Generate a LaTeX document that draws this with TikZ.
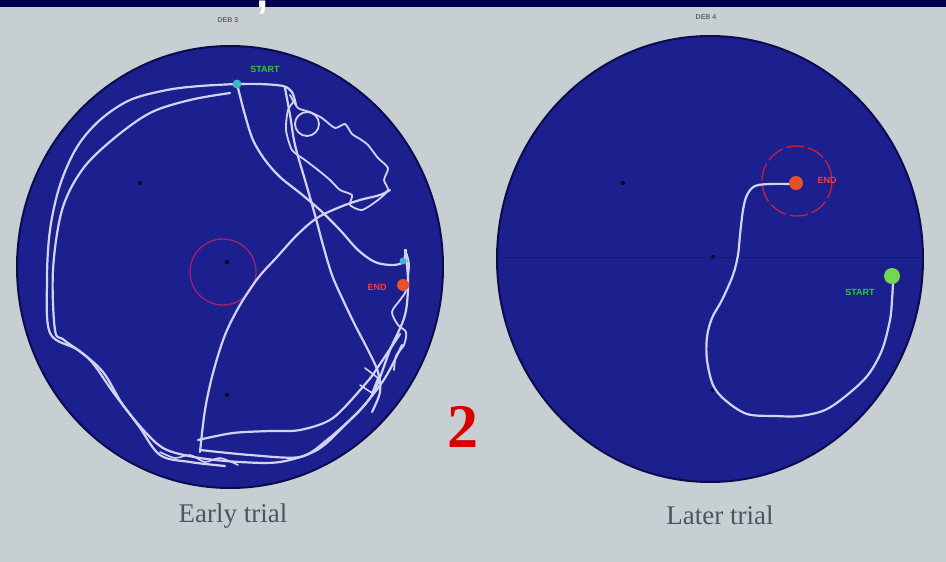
\documentclass[tikz,border=0pt]{standalone}
\usepackage{fontspec}
\setmainfont{Liberation Serif}
\newfontfamily\sansf{Liberation Sans}
\definecolor{bgc}{HTML}{C8CFD2}
\definecolor{poolc}{HTML}{1C1F8E}
\definecolor{rimc}{HTML}{0B0C4E}
\definecolor{bandc}{HTML}{00004F}
\definecolor{trailc}{HTML}{D2D2F2}
\definecolor{startc}{HTML}{2ECC2E}
\definecolor{endc}{HTML}{FF3A3A}
\definecolor{captc}{HTML}{4A5562}
\definecolor{platl}{HTML}{A0226E}
\definecolor{platr}{HTML}{C8203C}
\definecolor{enddot}{HTML}{E8502A}
\definecolor{cyandot}{HTML}{3CB8C8}
\begin{document}
\begin{tikzpicture}[x=1pt,y=-1pt,
  trail/.style={draw=trailc, line width=2.2pt, line cap=round, line join=round},
  pool/.style={fill=poolc, draw=rimc, line width=2pt},
  mark dot/.style={fill=black!70!poolc, draw=none},
  capt/.style={text=captc, font=\fontsize{27}{29}\selectfont, inner sep=0pt},
  tiny/.style={text=black!60, font=\sansf\fontsize{7}{7}\selectfont\bfseries, inner sep=0pt},
  lbl/.style={font=\sansf\fontsize{9}{9}\selectfont\bfseries, inner sep=0pt}]
\fill[bgc] (0,0) rectangle (946,562);
\useasboundingbox (0,0) rectangle (946,562);
\fill[bandc] (0,0) rectangle (946,7);
\node[text=white, font=\sansf\fontsize{44}{44}\selectfont\bfseries, inner sep=0pt, anchor=base] (comma) at (263,7) {,};

% pools
\draw[pool] (230,267) ellipse [x radius=213, y radius=221];
\draw[pool] (710,259) ellipse [x radius=213, y radius=223];

% trial ids
\node[tiny] (idl) at (228,20) {DEB 3};
\node[tiny] (idr) at (706,17) {DEB 4};

% quadrant markers
\foreach \p in {(140,183),(227,262),(227,395),(623,183),(713,257),(713,390)}
  \fill[mark dot] \p circle (2.2);
\draw[rimc!35!poolc, line width=0.6pt] (500,257) -- (920,257);

% platforms
\draw[platl, line width=1.3pt] (223,272) circle (33);
\draw[platr, line width=1.3pt, dash pattern=on 18pt off 4pt] (797,181) circle (35);

% ---- early trial trails
\draw[trail] plot[smooth, tension=0.55] coordinates {(237,84) (200,86) (167,90) (130,100) (100,120) (77,147) (60,185) (50,230) (47,280) (50,333) (78,350) (103,372) (123,405) (148,435) (167,450) (200,458) (240,462) (280,462) (317,450) (345,425) (372,395) (390,350) (405,315) (408,280) (405,250)};
\draw[trail] plot[smooth, tension=0.55] coordinates {(230,93) (190,100) (150,113) (112,140) (82,170) (62,210) (53,270) (55,330) (64,340) (90,360) (113,392) (138,425) (160,455) (190,462) (225,466)};
\draw[trail] plot[smooth, tension=0.55] coordinates {(200,452) (205,410) (213,373) (225,335) (240,305) (258,278) (277,257) (297,235) (317,218) (340,207) (360,200) (380,195) (390,190)};
\draw[trail] plot[smooth, tension=0.55] coordinates {(238,88) (245,115) (253,140) (265,160) (280,177) (300,193) (320,210) (340,230) (358,250) (375,262) (392,265) (403,262) (406,250)};
\draw[trail] plot[smooth, tension=0.55] coordinates {(285,88) (290,115) (295,145) (305,180) (315,215) (323,245) (332,275) (343,300) (355,325) (368,350) (378,372) (380,392) (372,412)};
\draw[trail] plot[smooth, tension=0.5] coordinates {(237,84) (260,84) (283,86) (292,92) (296,105)};
\draw[trail, line width=1.8pt] plot[smooth, tension=0.4] coordinates {(290,95) (298,108) (310,112) (322,118) (335,128) (345,124) (352,134) (360,139) (368,145) (378,158) (388,168) (384,180) (388,190) (378,200) (362,210) (350,205) (352,195) (340,190) (330,180) (318,170) (305,160) (292,150) (286,130) (288,110) (295,100)};
\draw[trail, line width=1.8pt] (307,124) circle (12);
\draw[trail, line width=1.8pt] plot[smooth, tension=0.5] coordinates {(405,250) (409,264) (406,290) (400,300) (392,312) (398,325) (406,332) (404,345) (396,356) (394,370)};
\draw[trail] plot[smooth, tension=0.5] coordinates {(198,440) (233,433) (270,431) (300,430) (333,418) (367,382) (380,364) (400,334)};
\draw[trail] plot[smooth, tension=0.5] coordinates {(200,450) (250,455) (300,457) (327,440) (360,410) (385,378) (402,345)};
\draw[trail, line width=1.6pt] plot[smooth, tension=0.5] coordinates {(160,452) (175,458) (190,455) (205,462) (220,458) (238,465)};
\draw[trail, line width=1.6pt] (365,368) -- (378,378) -- (372,393) -- (360,385);

% start / end markers (early)
\node[lbl, text=startc] (sl) at (265,69) {START};
\fill[cyandot] (237,84) circle (4.5);
\fill[cyandot] (403,261) circle (3.5);
\node[lbl, text=endc] (el) at (377,287) {END};
\fill[enddot] (403,285) circle (6);

% ---- later trial trail
\draw[trail] plot[smooth, tension=0.55] coordinates {(893,283) (892,300) (890,320) (882,350) (868,375) (847,395) (825,410) (800,416) (775,416) (747,414) (725,400) (713,385) (707,360) (707,337) (712,318) (722,300) (733,275) (738,255) (740,235) (743,210) (747,195) (755,186) (770,184) (792,184)};
\fill[enddot] (796,183) circle (7);
\node[lbl, text=endc] (er) at (827,180) {END};
\fill[green!55!olive!70!white] (892,276) circle (8);
\node[lbl, text=startc] (sr) at (860,292) {START};

% captions
\node[capt] (c1) at (233,516) {Early trial};
\node[capt] (c2) at (720,515) {Later trial};
\node[text=red!85!black, font=\fontsize{62}{62}\selectfont\bfseries, inner sep=0pt] (two) at (463,427) {2};
\end{tikzpicture}
\end{document}
